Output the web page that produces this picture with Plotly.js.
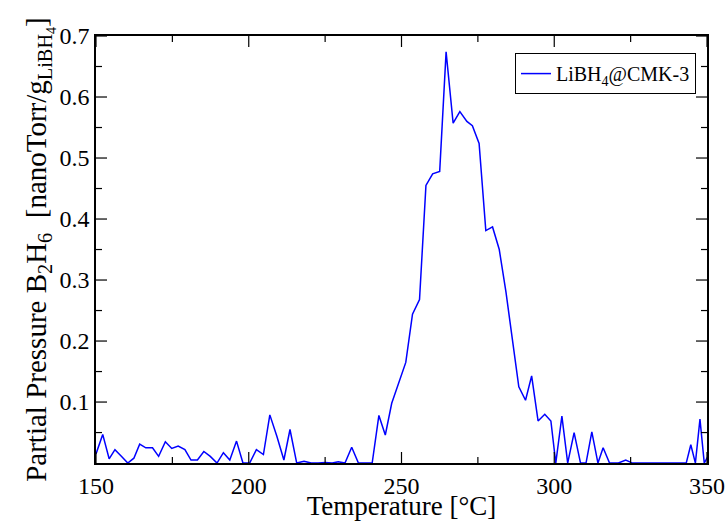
<!DOCTYPE html>
<html>
<head>
<meta charset="utf-8">
<script src="https://cdn.plot.ly/plotly-3.0.1.min.js"></script>
<style>html,body{margin:0;padding:0;background:#fff;}#chart{width:727px;height:521px;}</style>
</head>
<body>
<div id="chart"></div>
<script>
var seriesName = "LiBH<sub>4</sub>@CMK-3";
var temperature = [
  150.0, 152.2, 154.3, 156.2, 158.3, 160.4, 162.4, 164.3, 166.3, 168.5,
  170.5, 172.7, 174.8, 176.9, 179.1, 181.1, 183.2, 185.3, 187.4, 189.6,
  191.7, 193.8, 196.0, 198.1, 200.3, 202.5, 204.8, 206.9, 209.2, 211.5,
  213.5, 215.7, 218.1, 220.4, 222.7, 225.1, 227.3, 229.3, 231.5, 233.7,
  235.9, 238.1, 240.4, 242.6, 244.7, 246.8, 249.1, 251.4, 253.6, 255.9,
  258.0, 260.2, 262.5, 264.6, 266.9, 269.1, 271.4, 273.2, 275.4, 277.6,
  279.8, 282.0, 284.2, 286.3, 288.4, 290.6, 292.6, 294.7, 296.9, 298.9,
  300.5, 302.5, 304.4, 306.5, 308.6, 310.4, 312.3, 314.3, 316.0, 318.1,
  321.0, 323.4, 325.6, 327.8, 330.0, 332.2, 334.4, 336.6, 338.8, 341.0,
  343.2, 344.7, 346.2, 347.7, 349.1, 350.5
];
var pressure = [
  0.015, 0.047, 0.007, 0.022, 0.011, 0.000, 0.008, 0.031, 0.025, 0.025,
  0.011, 0.035, 0.024, 0.028, 0.022, 0.005, 0.005, 0.019, 0.011, 0.000,
  0.017, 0.005, 0.036, 0.000, 0.000, 0.022, 0.014, 0.079, 0.044, 0.005,
  0.055, 0.000, 0.003, 0.000, 0.000, 0.001, 0.000, 0.002, 0.000, 0.026,
  0.000, 0.000, 0.000, 0.078, 0.046, 0.098, 0.131, 0.165, 0.244, 0.268,
  0.455, 0.474, 0.478, 0.674, 0.557, 0.576, 0.560, 0.553, 0.524, 0.381,
  0.387, 0.350, 0.280, 0.200, 0.125, 0.103, 0.143, 0.069, 0.080, 0.069,
  0.000, 0.077, 0.000, 0.050, 0.000, 0.000, 0.051, 0.000, 0.025, 0.000,
  0.000, 0.005, 0.000, 0.000, 0.000, 0.000, 0.000, 0.000, 0.000, 0.000,
  0.000, 0.030, 0.000, 0.072, 0.000, 0.013
];
var xMajorTicks = [150, 200, 250, 300, 350];
var xMinorTicks = [175, 225, 275, 325];
var yMajorTicks = [0.1, 0.2, 0.3, 0.4, 0.5, 0.6, 0.7];
var yMinorTicks = [0.05, 0.15, 0.25, 0.35, 0.45, 0.55, 0.65];
var xRange = [150, 350], yRange = [0.0001, 0.7];

var serif = "Liberation Serif";
var trace = {
  x: temperature, y: pressure, type: "scatter", mode: "lines",
  name: seriesName, line: {color: "#0000ff", width: 1.5}
};

// tick marks drawn inside the frame (bottom/top and left/right), positioned by the axes
var MAJOR_LEN = 11, MINOR_LEN = 6;
var tickLine = {color: "#000", width: 1.2};
var shapes = [];
function addXTicks(vals, len) {
  vals.forEach(function (v) {
    shapes.push({type: "line", xref: "x", yref: "paper", ysizemode: "pixel", yanchor: 0,
      x0: v, x1: v, y0: 0, y1: len, line: tickLine, layer: "above"});
    shapes.push({type: "line", xref: "x", yref: "paper", ysizemode: "pixel", yanchor: 1,
      x0: v, x1: v, y0: 0, y1: -len, line: tickLine, layer: "above"});
  });
}
function addYTicks(vals, len) {
  vals.forEach(function (v) {
    shapes.push({type: "line", xref: "paper", yref: "y", xsizemode: "pixel", xanchor: 0,
      x0: 0, x1: len, y0: v, y1: v, line: tickLine, layer: "above"});
    shapes.push({type: "line", xref: "paper", yref: "y", xsizemode: "pixel", xanchor: 1,
      x0: 0, x1: -len, y0: v, y1: v, line: tickLine, layer: "above"});
  });
}
addXTicks(xMajorTicks, MAJOR_LEN);
addXTicks(xMinorTicks, MINOR_LEN);
addYTicks(yMajorTicks, MAJOR_LEN);
addYTicks(yMinorTicks, MINOR_LEN);

var layout = {
  width: 727, height: 521,
  margin: {l: 96, r: 20, t: 36, b: 58},
  paper_bgcolor: "#fff", plot_bgcolor: "#fff",
  font: {family: serif, color: "#000"},
  showlegend: true,
  legend: {
    x: 0.982, y: 0.96, xanchor: "right", yanchor: "top",
    bordercolor: "#000", borderwidth: 1, bgcolor: "#fff",
    font: {family: serif, size: 20, color: "#000"}
  },
  xaxis: {
    range: xRange, tickmode: "array", tickvals: xMajorTicks, ticktext: xMajorTicks.map(String),
    ticks: "", showline: true, linecolor: "#000", linewidth: 1.5, mirror: true,
    showgrid: false, zeroline: false,
    tickfont: {family: serif, size: 24},
    title: {text: "Temperature [°C]", font: {family: serif, size: 27}, standoff: 0}
  },
  yaxis: {
    range: yRange, tickmode: "array", tickvals: yMajorTicks, ticktext: yMajorTicks.map(function (v) { return v.toFixed(1); }),
    ticks: "", showline: true, linecolor: "#000", linewidth: 1.5, mirror: true,
    showgrid: false, zeroline: false,
    tickfont: {family: serif, size: 24},
    title: {text: "Partial Pressure B<sub>2</sub>H<sub>6</sub>  [nanoTorr/g<sub>LiBH<sub>4</sub></sub>]", font: {family: serif, size: 29}, standoff: 4}
  },
  shapes: shapes
};
Plotly.newPlot("chart", [trace], layout, {displayModeBar: false});
</script>
</body>
</html>
